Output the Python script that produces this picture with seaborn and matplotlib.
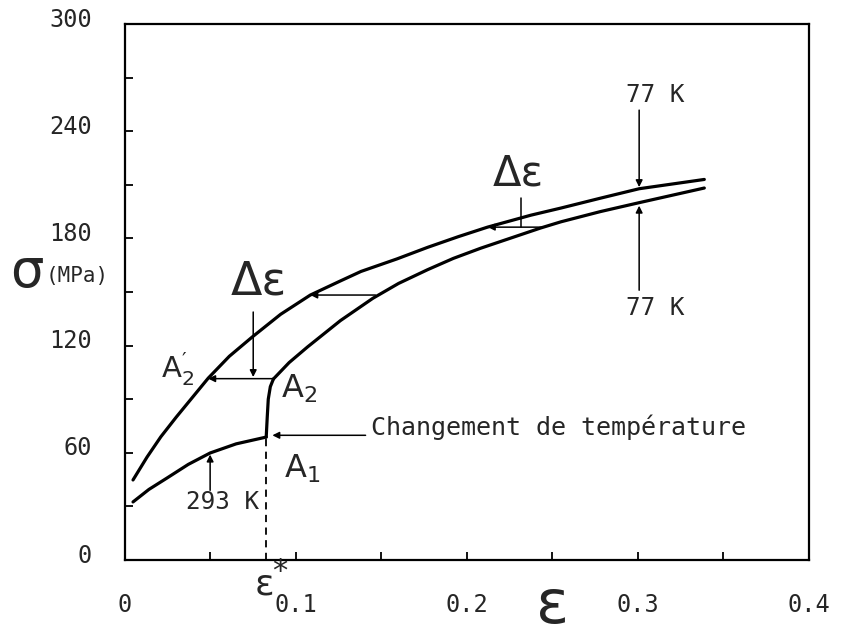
"""
Stress-strain curves of the temperature-change test (293 K -> 77 K).

Recreates the scanned figure: sigma (MPa) against strain epsilon, with the
jump A1 -> A2 at epsilon* and the strain offsets (delta epsilon) to the
77 K reference curve.
"""

import matplotlib

matplotlib.use("Agg")

import matplotlib.pyplot as plt
import matplotlib.transforms as mtransforms
import seaborn as sns

# ---------------------------------------------------------------------------
# Data
# ---------------------------------------------------------------------------

# 77 K reference curve (upper)
EPS_77_REF = [0.0047, 0.0129, 0.021, 0.030, 0.0487, 0.061, 0.0744, 0.091,
              0.1084, 0.126, 0.138, 0.159, 0.177, 0.195, 0.212, 0.2374,
              0.255, 0.278, 0.3007, 0.3388]
SIG_77_REF = [44.8, 57.6, 69.0, 80.0, 101.8, 114.0, 124.8, 137.5,
              148.3, 156.2, 161.5, 168.5, 175.0, 181.0, 186.3, 193.0,
              197.0, 202.5, 207.8, 213.0]

# 293 K curve up to the temperature change (A1)
EPS_293 = [0.0047, 0.014, 0.0246, 0.037, 0.0498, 0.065, 0.0826]
SIG_293 = [32.5, 39.5, 45.9, 53.5, 59.9, 65.0, 68.8]

# jump A1 -> A2 after cooling
EPS_JUMP = [0.0826, 0.0832, 0.0838, 0.0850, 0.0868]
SIG_JUMP = [68.8, 80.0, 90.0, 97.0, 101.3]

# 77 K curve after the change (lower)
EPS_77_AFTER = [0.0868, 0.096, 0.1067, 0.126, 0.145, 0.160, 0.177, 0.192,
                0.208, 0.243, 0.255, 0.278, 0.3007, 0.3388]
SIG_77_AFTER = [101.3, 110.5, 119.2, 134.0, 146.5, 154.8, 162.5, 168.8,
                174.5, 185.8, 189.3, 195.0, 200.0, 208.2]

EPS_STAR = 0.0826

# horizontal delta-epsilon arrows: (sigma, from eps, to eps)
DELTA_ARROWS = [(101.5, 0.0868, 0.0487), (148.3, 0.1465, 0.1084),
                (186.3, 0.245, 0.2122)]

X_TICKS = [0.0, 0.1, 0.2, 0.3, 0.4]
X_TICK_LABELS = ["0", "0.1", "0.2", "0.3", "0.4"]
Y_TICKS = [0, 60, 120, 180, 240, 300]

MONO = ["DejaVu Sans Mono", "DejaVu Sans"]


def arrow(ax, head, tail):
    ax.annotate("", xy=head, xytext=tail,
                arrowprops=dict(arrowstyle="-|>", lw=1.1, color="black",
                                mutation_scale=10, shrinkA=0, shrinkB=0))


def main() -> None:
    sns.set_style("ticks")
    plt.rcParams["font.family"] = MONO
    plt.rcParams["mathtext.default"] = "regular"

    fig = plt.figure(figsize=(8.41, 6.35), dpi=100)
    ax = fig.add_axes([0.1486, 0.1181, 0.8133, 0.8441])

    line_kw = dict(color="black", linewidth=2.3, sort=False, estimator=None,
                   solid_joinstyle="round", solid_capstyle="round", ax=ax)
    sns.lineplot(x=EPS_77_REF, y=SIG_77_REF, **line_kw)
    sns.lineplot(x=EPS_293, y=SIG_293, **line_kw)
    sns.lineplot(x=EPS_JUMP, y=SIG_JUMP, **line_kw)
    sns.lineplot(x=EPS_77_AFTER, y=SIG_77_AFTER, **line_kw)

    # dashed line down from A1 to epsilon*
    ax.plot([EPS_STAR, EPS_STAR], [0, SIG_293[-1]], color="black",
            linewidth=1.3, linestyle=(0, (4, 3)))

    for sig, e_from, e_to in DELTA_ARROWS:
        arrow(ax, (e_to, sig), (e_from, sig))

    # delta epsilon labels
    ax.text(0.078, 155.6, "Δε", fontsize=33, family="DejaVu Sans",
            ha="center", va="center")
    arrow(ax, (0.075, 102.4), (0.075, 138.8))
    ax.text(0.2298, 216.6, "Δε", fontsize=30, family="DejaVu Sans",
            ha="center", va="center")
    ax.plot([0.2315, 0.2315], [186.3, 202.6], color="black", linewidth=1.1)

    # 77 K markers
    ax.text(0.310, 260, "77 K", fontsize=17.5, ha="center", va="center")
    arrow(ax, (0.3007, 208.7), (0.3007, 251.8))
    ax.text(0.310, 141, "77 K", fontsize=17.5, ha="center", va="center")
    arrow(ax, (0.3007, 198.3), (0.3007, 151.0))

    # 293 K marker
    ax.text(0.0569, 32.5, "293 K", fontsize=17.5, ha="center", va="center")
    arrow(ax, (0.0498, 59.0), (0.0498, 39.0))

    # temperature change
    ax.text(0.1436, 74.4, "Changement de température", fontsize=18,
            ha="left", va="center")
    arrow(ax, (0.0862, 69.8), (0.1407, 69.8))

    ax.text(0.1035, 51, r"$A_1$", fontsize=23, family="DejaVu Sans",
            ha="center", va="center")
    ax.text(0.1017, 96, r"$A_2$", fontsize=23, family="DejaVu Sans",
            ha="center", va="center")
    ax.text(0.0305, 107, r"$A^{\prime}_{2}$", fontsize=21,
            family="DejaVu Sans", ha="center", va="center")

    # epsilon* under the axis
    ax.text(EPS_STAR - 0.001, -13.5, "ε", fontsize=26, family="DejaVu Sans",
            ha="center", va="center", clip_on=False)
    ax.text(EPS_STAR + 0.008, -6.5, "*", fontsize=22, family="DejaVu Sans",
            ha="center", va="center", clip_on=False)

    # axis labels drawn as text to match the scan placement
    fig.text(553 / 841, 1 - 606 / 635, "ε", fontsize=44,
             family="DejaVu Sans", ha="center", va="center")
    fig.text(27 / 841, 1 - 272 / 635, "σ", fontsize=38,
             family="DejaVu Sans", ha="center", va="center")
    fig.text(46 / 841, 1 - 276 / 635, "(MPa)", fontsize=15,
             ha="left", va="center")

    ax.set_xlim(0, 0.4)
    ax.set_ylim(0, 300)
    ax.set_xticks(X_TICKS)
    ax.set_xticklabels(X_TICK_LABELS)
    ax.set_xticks([0.05, 0.15, 0.25, 0.35], minor=True)
    ax.set_yticks(Y_TICKS)
    ax.set_yticks([30, 90, 150, 210, 270], minor=True)
    ax.set_xlabel("")
    ax.set_ylabel("")

    ax.tick_params(axis="both", which="both", direction="in", length=6,
                   width=1.3, color="black", labelsize=17, top=False,
                   right=False)
    ax.tick_params(axis="x", which="major", pad=24)
    ax.tick_params(axis="y", which="major", pad=24)

    # labels on the scan sit a little above their ticks
    offset = mtransforms.ScaledTranslation(0, 7 / 100, fig.dpi_scale_trans)
    for label in ax.get_yticklabels():
        label.set_transform(label.get_transform() + offset)

    for spine in ax.spines.values():
        spine.set_visible(True)
        spine.set_linewidth(1.6)
        spine.set_color("black")

    fig.savefig("out.png", dpi=100)
    plt.close("all")


if __name__ == "__main__":
    main()
